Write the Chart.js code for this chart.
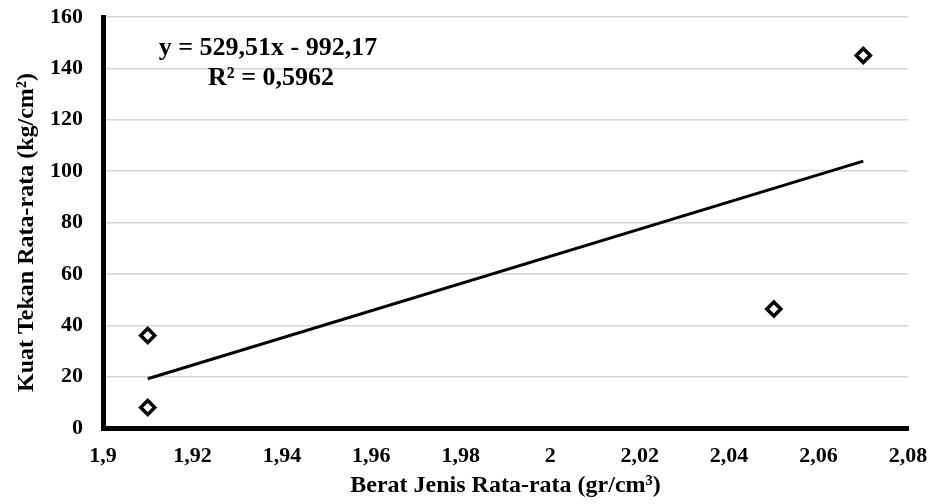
<!DOCTYPE html>
<html>
<head>
<meta charset="utf-8">
<script src="https://cdn.jsdelivr.net/npm/chart.js@4.4.1/dist/chart.umd.min.js"></script>
<style>
  html, body { margin: 0; padding: 0; background: #fff; }
  #wrap { width: 934px; height: 504px; position: relative; }
</style>
</head>
<body>
<div id="wrap"><canvas id="densityChart"></canvas></div>
<script>
// measured samples: average specific gravity vs average compressive strength
const beratJenis = [1.91, 1.91, 2.05, 2.07];
const kuatTekan = [36, 8, 46.3, 145];

// linear trend as reported on the chart
const trendSlope = 529.51;
const trendIntercept = -992.17;
const trendRange = [1.91, 2.07];
const trendLabels = ['y = 529,51x - 992,17', 'R² = 0,5962'];

const xTicks = [1.9, 1.92, 1.94, 1.96, 1.98, 2, 2.02, 2.04, 2.06, 2.08];
const yTicks = [0, 20, 40, 60, 80, 100, 120, 140, 160];
const yTitle = 'Kuat Tekan Rata-rata (kg/cm²)';

const serif = '"Liberation Serif", "Times New Roman", serif';

function commaNum(v) {
  return String(Number(v.toFixed(2))).replace('.', ',');
}

const points = beratJenis.map((x, i) => ({ x, y: kuatTekan[i] }));
const trend = trendRange.map(x => ({ x, y: trendSlope * x + trendIntercept }));

// regression equation box plus the rotated y-axis title
const chartText = {
  id: 'chartText',
  afterDatasetsDraw(chart) {
    const ctx = chart.ctx;
    const area = chart.chartArea;
    ctx.save();
    ctx.fillStyle = '#000';
    ctx.textAlign = 'center';
    ctx.textBaseline = 'middle';
    ctx.font = `bold 26px ${serif}`;
    ctx.fillText(trendLabels[0], area.left + 165, area.top + 31);
    ctx.fillText(trendLabels[1], area.left + 168, area.top + 61);

    ctx.translate(27, (area.top + area.bottom) / 2 + 10);
    ctx.rotate(-Math.PI / 2);
    ctx.font = `bold 24px ${serif}`;
    ctx.fillText(yTitle, 0, 0);
    ctx.restore();
  }
};

new Chart(document.getElementById('densityChart'), {
  data: {
    datasets: [
      {
        type: 'line',
        label: 'Linear',
        data: trend,
        borderColor: '#000',
        borderWidth: 3,
        pointRadius: 0,
        order: 2
      },
      {
        type: 'scatter',
        label: 'Kuat Tekan',
        data: points,
        pointStyle: 'rectRot',
        pointRadius: 7,
        pointBorderWidth: 3.5,
        pointBackgroundColor: '#fff',
        pointBorderColor: '#000',
        order: 1
      }
    ]
  },
  plugins: [chartText],
  options: {
    responsive: true,
    maintainAspectRatio: false,
    animation: false,
    parsing: false,
    layout: { padding: { top: 17, right: 26, bottom: 0, left: 0 } },
    plugins: {
      legend: { display: false },
      tooltip: { enabled: false }
    },
    scales: {
      x: {
        type: 'linear',
        min: 1.9,
        max: 2.08,
        afterBuildTicks(scale) { scale.ticks = xTicks.map(v => ({ value: v })); },
        afterFit(scale) {
          scale.height = 76;
          scale.paddingLeft = 0;
          scale.paddingRight = 0;
        },
        grid: { display: false, drawTicks: false },
        border: { display: true, color: '#000', width: 5 },
        ticks: {
          padding: 15,
          color: '#000',
          font: { family: serif, size: 22, weight: 'bold' },
          callback: v => commaNum(v)
        },
        title: {
          display: true,
          text: 'Berat Jenis Rata-rata (gr/cm³)',
          color: '#000',
          font: { family: serif, size: 24, weight: 'bold' },
          padding: { top: 0, bottom: 4 }
        }
      },
      y: {
        type: 'linear',
        min: 0,
        max: 160,
        afterBuildTicks(scale) { scale.ticks = yTicks.map(v => ({ value: v })); },
        afterFit(scale) {
          scale.width = 103;
          scale.paddingTop = 0;
          scale.paddingBottom = 0;
        },
        grid: { color: '#d6d6d6', lineWidth: 1.5, drawTicks: false },
        border: { display: true, color: '#000', width: 5 },
        ticks: {
          padding: 20,
          color: '#000',
          font: { family: serif, size: 22, weight: 'bold' },
          callback: v => String(v)
        }
      }
    }
  }
});
</script>
</body>
</html>
